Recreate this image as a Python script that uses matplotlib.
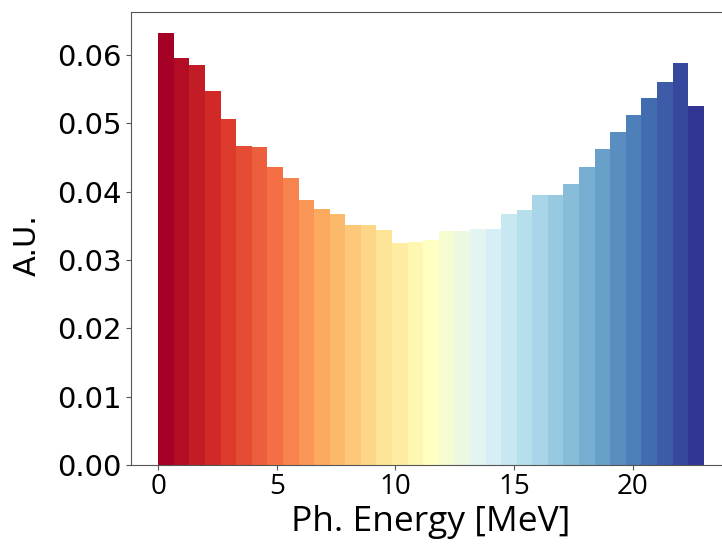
import numpy as np
from matplotlib import pyplot as plt
from matplotlib import cm

# photon energy spectrum, 35 bins from 0 to 23 MeV
e_min = 0.0
e_max = 23.0
counts = [0.0632, 0.0595, 0.0585, 0.0547, 0.0507, 0.0467, 0.0465, 0.0436, 0.0420, 0.0388,
          0.0375, 0.0367, 0.0351, 0.0351, 0.0344, 0.0325, 0.0326, 0.0329, 0.0343, 0.0343,
          0.0346, 0.0345, 0.0367, 0.0373, 0.0395, 0.0395, 0.0411, 0.0436, 0.0462, 0.0488,
          0.0512, 0.0537, 0.0560, 0.0589, 0.0526]
x_ticks = [0, 5, 10, 15, 20]
y_ticks = [0.00, 0.01, 0.02, 0.03, 0.04, 0.05, 0.06]

n_bins = len(counts)
edges = np.linspace(e_min, e_max, n_bins + 1)
width = edges[1] - edges[0]
colors = cm.RdYlBu(np.linspace(0, 1, n_bins))

fig = plt.figure(figsize=(7.22, 5.45), dpi=100)
ax = fig.add_axes([131 / 722, 80 / 545, 600 / 722, 453 / 545])
ax.bar(edges[:-1], counts, width=width, align='edge', color=colors, linewidth=0)

ax.set_xlim(-1.15, 24.15)
ax.set_ylim(0, 0.0663)
ax.set_xticks(x_ticks)
ax.set_xticklabels([str(t) for t in x_ticks], fontfamily='Open Sans', fontsize=20)
ax.set_yticks(y_ticks)
ax.set_yticklabels(['%.2f' % t for t in y_ticks], fontsize=21)
ax.tick_params(axis='x', pad=2)
for s in ax.spines.values():
    s.set_color('#555555')
ax.tick_params(color='#555555')

ax.set_xlabel('Ph. Energy [MeV]', fontfamily='Open Sans', fontsize=25.5, labelpad=3)
ax.set_ylabel('A.U.', fontsize=22)
ax.yaxis.set_label_coords(-0.148, 0.485)

fig.savefig('out.png', dpi=100)
